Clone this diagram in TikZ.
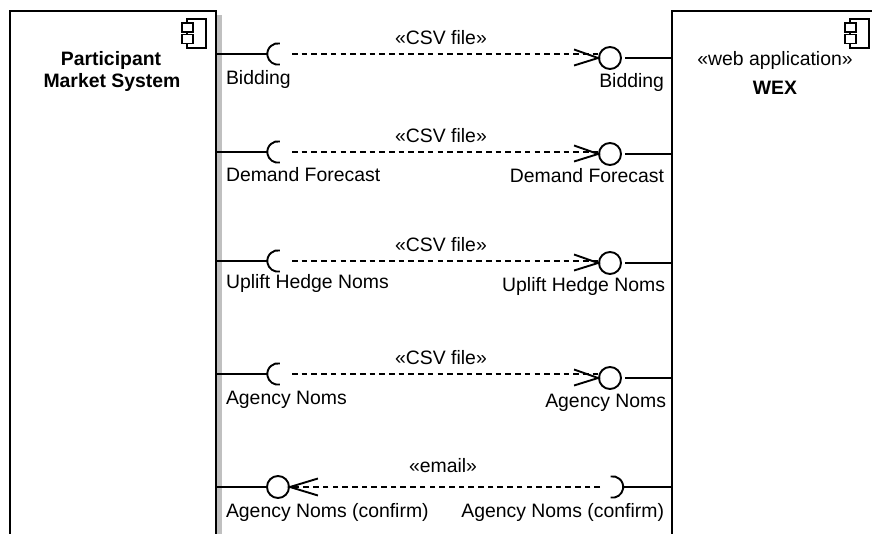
\documentclass[tikz,border=0pt]{standalone}
\usepackage{fontspec}
\setmainfont{Liberation Sans}
\definecolor{shadowgrey}{RGB}{192,192,192}
\newcommand{\socketL}[1]{\draw[ln] (#1) ++(80:10.7) arc[start angle=80,end angle=280,radius=10.7];}
\newcommand{\socketR}[1]{\draw[ln] (#1) ++(100:10.7) arc[start angle=100,end angle=-100,radius=10.7];}
\newcommand{\barbR}[1]{\draw[ln] ([shift={(-24,-8.5)}]#1) -- (#1) -- ([shift={(-24,7.5)}]#1);}
\newcommand{\barbL}[1]{\draw[ln] ([shift={(28,-8.5)}]#1) -- (#1) -- ([shift={(28,8.5)}]#1);}
\tikzset{
  ln/.style={line width=1.9pt,black},
  dep/.style={ln,dash pattern=on 5.6pt off 4.1pt},
  ball/.style={circle,draw,line width=1.9pt,minimum size=22pt,inner sep=0pt},
  boxarea/.style={inner sep=0pt,outer sep=0pt,anchor=north west},
  lbl/.style={inner sep=0pt,outer sep=0pt,font=\fontsize{19.4}{23}\selectfont},
  blbl/.style={lbl,font=\fontsize{19.4}{23}\selectfont\bfseries},
  part/.style={draw,line width=1.9pt,fill=white,inner sep=0pt,outer sep=0pt,anchor=north west}
}
\begin{document}
\begin{tikzpicture}[x=1pt,y=-1pt]
\useasboundingbox (0,0) rectangle (872,534);
% shadow
\fill[shadowgrey] (217,15) rectangle (222,534);
% boxes (open at the page edge)
\node[boxarea,minimum width=206pt,minimum height=523pt] (left) at (10,11) {};
\node[boxarea,minimum width=200pt,minimum height=523pt] (right) at (672,11) {};
\draw[ln] (left.south west) -- (left.north west) -- (left.north east) -- (left.south east);
\draw[ln] (right.south west) -- (right.north west) -- (right.north east);
% component icons
\node[part,minimum width=19pt,minimum height=29pt] (iconLm) at (187,19) {};
\node[part,minimum width=11pt,minimum height=9pt] (iconLa) at (182,23) {};
\node[part,minimum width=11pt,minimum height=9pt] (iconLb) at (182,34.5) {};
\node[part,minimum width=19pt,minimum height=29pt] (iconRm) at (850,19) {};
\node[part,minimum width=11pt,minimum height=9pt] (iconRa) at (845,23) {};
\node[part,minimum width=11pt,minimum height=9pt] (iconRb) at (845,34.5) {};
% titles
\node[blbl,anchor=base] (t1) at (111,65.7) {Participant};
\node[blbl,anchor=base] (t2) at (112,88) {Market System};
\node[lbl,anchor=base] (t3) at (775,65.7) {«web application»};
\node[blbl,anchor=base] (t4) at (775,95) {WEX};
% coordinates: socket centres, dash ends, wire ends
\coordinate (s1) at (278,54);
\coordinate (s2) at (278,152);
\coordinate (s3) at (278,261);
\coordinate (s4) at (278,374);
\coordinate (s5) at (612.5,487);
\coordinate (a1) at (267.3,54);
\coordinate (a2) at (267.3,152);
\coordinate (a3) at (267.3,261);
\coordinate (a4) at (267.3,374);
\coordinate (d1) at (292,54);
\coordinate (d2) at (292,152);
\coordinate (d3) at (292,261);
\coordinate (d4) at (292,374);
\coordinate (d5) at (600,487);
\coordinate (w1) at (625,58);
\coordinate (w2) at (625,154);
\coordinate (w3) at (625,263);
\coordinate (w4) at (625,378);
\coordinate (w5) at (624,487);
% balls
\node[ball] (b1) at (610,58) {};
\node[ball] (b2) at (610,154) {};
\node[ball] (b3) at (610,263) {};
\node[ball] (b4) at (610,378) {};
\node[ball] (b5) at (278,487) {};
% sockets
\socketL{s1} \socketL{s2} \socketL{s3} \socketL{s4} \socketR{s5}
% wires
\draw[ln] (a1 -| left.east) -- (a1);
\draw[ln] (a2 -| left.east) -- (a2);
\draw[ln] (a3 -| left.east) -- (a3);
\draw[ln] (a4 -| left.east) -- (a4);
\draw[ln] (b5.west -| left.east) -- (b5.west);
\draw[ln] (w1) -- (w1 -| right.west);
\draw[ln] (w2) -- (w2 -| right.west);
\draw[ln] (w3) -- (w3 -| right.west);
\draw[ln] (w4) -- (w4 -| right.west);
\draw[ln] (w5) -- (w5 -| right.west);
% dependencies
\draw[dep] (d1) -- (d1 -| b1.west);
\draw[dep] (d2) -- (d2 -| b2.west);
\draw[dep] (d3) -- (d3 -| b3.west);
\draw[dep] (d4) -- (d4 -| b4.west);
\draw[dep] (d5) -- (d5 -| b5.east);
\barbR{b1.west} \barbR{b2.west} \barbR{b3.west} \barbR{b4.west} \barbL{b5.east}
% stereotypes
\node[lbl,anchor=base] (c1) at (441,45) {«CSV file»};
\node[lbl,anchor=base] (c2) at (441,143) {«CSV file»};
\node[lbl,anchor=base] (c3) at (441,252) {«CSV file»};
\node[lbl,anchor=base] (c4) at (441,364) {«CSV file»};
\node[lbl,anchor=base] (c5) at (443,472.7) {«email»};
% left labels
\node[lbl,anchor=base west] (l1) at (226,85) {Bidding};
\node[lbl,anchor=base west] (l2) at (226,181.7) {Demand Forecast};
\node[lbl,anchor=base west] (l3) at (226,289) {Uplift Hedge Noms};
\node[lbl,anchor=base west] (l4) at (226,404) {Agency Noms};
\node[lbl,anchor=base west] (l5) at (226,517) {Agency Noms (confirm)};
% right labels
\node[lbl,anchor=base east] (r1) at (664,88) {Bidding};
\node[lbl,anchor=base east] (r2) at (664,183) {Demand Forecast};
\node[lbl,anchor=base east] (r3) at (665,291.7) {Uplift Hedge Noms};
\node[lbl,anchor=base east] (r4) at (666,407) {Agency Noms};
\node[lbl,anchor=base east] (r5) at (664,517) {Agency Noms (confirm)};
\end{tikzpicture}
\end{document}
